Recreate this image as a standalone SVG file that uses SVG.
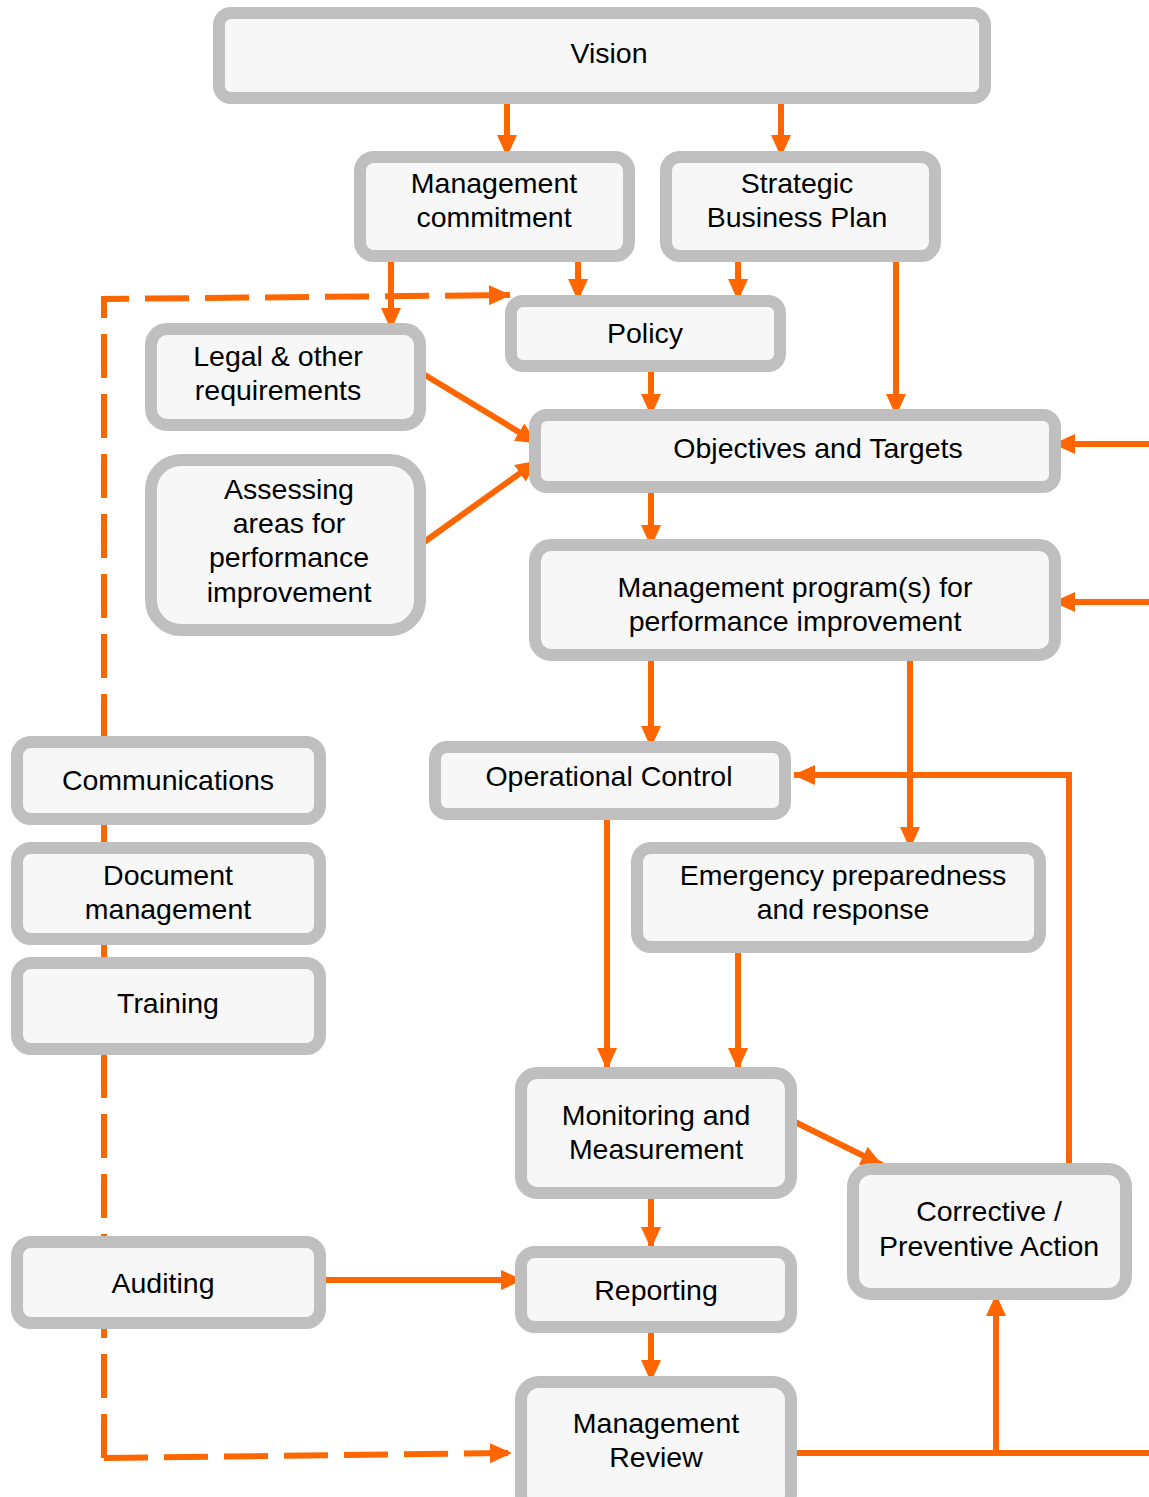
<svg xmlns="http://www.w3.org/2000/svg" width="1149" height="1497" viewBox="0 0 1149 1497">
<style>
.box{fill:#f7f7f7;stroke:#bfbfbf;stroke-width:12}
.t{font-family:"Liberation Sans",Arial,sans-serif;font-size:28.5px;fill:#000;text-anchor:middle}
.c{fill:none;stroke:#ff6600;stroke-width:6}
.d{fill:none;stroke:#ff6600;stroke-width:6;stroke-dasharray:44 16}
</style>
<defs>
<marker id="ah" markerUnits="userSpaceOnUse" markerWidth="22" markerHeight="20" viewBox="0 0 22 20" refX="21" refY="10" orient="auto">
<path d="M0,0 L22,10 L0,20 Z" fill="#ff6600"/>
</marker>
</defs>
<g id="connectors">
<path class="d" d="M104,1458 L104,299 L510,295" marker-end="url(#ah)"/>
<path class="d" d="M104,1458 L511,1453" marker-end="url(#ah)"/>
<path class="c" d="M507,97 L507,156" marker-end="url(#ah)"/>
<path class="c" d="M781,97 L781,156" marker-end="url(#ah)"/>
<path class="c" d="M391,257 L391,329" marker-end="url(#ah)"/>
<path class="c" d="M578,257 L578,300" marker-end="url(#ah)"/>
<path class="c" d="M738,257 L738,300" marker-end="url(#ah)"/>
<path class="c" d="M896,257 L896,415" marker-end="url(#ah)"/>
<path class="c" d="M651,372 L651,415" marker-end="url(#ah)"/>
<path class="c" d="M420,372 L537,443" marker-end="url(#ah)"/>
<path class="c" d="M420,545 L537,461" marker-end="url(#ah)"/>
<path class="c" d="M651,483 L651,546" marker-end="url(#ah)"/>
<path class="c" d="M1149,444 L1054,444" marker-end="url(#ah)"/>
<path class="c" d="M1149,602 L1054,602" marker-end="url(#ah)"/>
<path class="c" d="M651,660 L651,747" marker-end="url(#ah)"/>
<path class="c" d="M910,660 L910,848" marker-end="url(#ah)"/>
<path class="c" d="M1069,1166 L1069,775 L794,775" marker-end="url(#ah)"/>
<path class="c" d="M607,818 L607,1069" marker-end="url(#ah)"/>
<path class="c" d="M738,948 L738,1069" marker-end="url(#ah)"/>
<path class="c" d="M795,1122 L882,1165" marker-end="url(#ah)"/>
<path class="c" d="M651,1194 L651,1248" marker-end="url(#ah)"/>
<path class="c" d="M326,1280 L522,1280" marker-end="url(#ah)"/>
<path class="c" d="M651,1323 L651,1381" marker-end="url(#ah)"/>
<path class="c" d="M793,1453 L1149,1453"/>
<path class="c" d="M996,1453 L996,1295" marker-end="url(#ah)"/>
</g>
<g id="vision"><rect class="box" x="219" y="13" width="766" height="85" rx="12"/><text class="t" x="609" y="63">Vision</text></g>
<g id="mgmt-commitment"><rect class="box" x="360" y="157" width="269" height="99" rx="14"/><text class="t" x="494" y="193">Management</text><text class="t" x="494" y="227">commitment</text></g>
<g id="strategic-plan"><rect class="box" x="666" y="157" width="269" height="99" rx="14"/><text class="t" x="797" y="193">Strategic</text><text class="t" x="797" y="227">Business Plan</text></g>
<g id="policy"><rect class="box" x="511" y="301" width="269" height="65" rx="12"/><text class="t" x="645" y="343">Policy</text></g>
<g id="legal"><rect class="box" x="151" y="329" width="269" height="96" rx="16"/><text class="t" x="278" y="366">Legal &amp; other</text><text class="t" x="278" y="400">requirements</text></g>
<g id="assessing"><rect class="box" x="151" y="460" width="269" height="170" rx="30"/><text class="t" x="289" y="499">Assessing</text><text class="t" x="289" y="533">areas for</text><text class="t" x="289" y="567">performance</text><text class="t" x="289" y="602">improvement</text></g>
<g id="objectives"><rect class="box" x="535" y="415" width="520" height="72" rx="12"/><text class="t" x="818" y="458">Objectives and Targets</text></g>
<g id="mgmt-program"><rect class="box" x="535" y="545" width="520" height="110" rx="16"/><text class="t" x="795" y="597">Management program(s) for</text><text class="t" x="795" y="631">performance improvement</text></g>
<g id="communications"><rect class="box" x="17" y="742" width="303" height="77" rx="14"/><text class="t" x="168" y="790">Communications</text></g>
<g id="document-mgmt"><rect class="box" x="17" y="848" width="303" height="91" rx="14"/><text class="t" x="168" y="885">Document</text><text class="t" x="168" y="919">management</text></g>
<g id="training"><rect class="box" x="17" y="963" width="303" height="86" rx="14"/><text class="t" x="168" y="1013">Training</text></g>
<g id="operational-control"><rect class="box" x="435" y="747" width="350" height="67" rx="12"/><text class="t" x="609" y="786">Operational Control</text></g>
<g id="emergency"><rect class="box" x="637" y="848" width="403" height="99" rx="14"/><text class="t" x="843" y="885">Emergency preparedness</text><text class="t" x="843" y="919">and response</text></g>
<g id="monitoring"><rect class="box" x="521" y="1073" width="270" height="120" rx="16"/><text class="t" x="656" y="1125">Monitoring and</text><text class="t" x="656" y="1159">Measurement</text></g>
<g id="corrective"><rect class="box" x="853" y="1169" width="273" height="125" rx="18"/><text class="t" x="989" y="1221">Corrective /</text><text class="t" x="989" y="1256">Preventive Action</text></g>
<g id="auditing"><rect class="box" x="17" y="1242" width="303" height="81" rx="14"/><text class="t" x="163" y="1293">Auditing</text></g>
<g id="reporting"><rect class="box" x="521" y="1252" width="270" height="75" rx="14"/><text class="t" x="656" y="1300">Reporting</text></g>
<g id="mgmt-review"><rect class="box" x="521" y="1382" width="270" height="130" rx="18"/><text class="t" x="656" y="1433">Management</text><text class="t" x="656" y="1467">Review</text></g>
</svg>
